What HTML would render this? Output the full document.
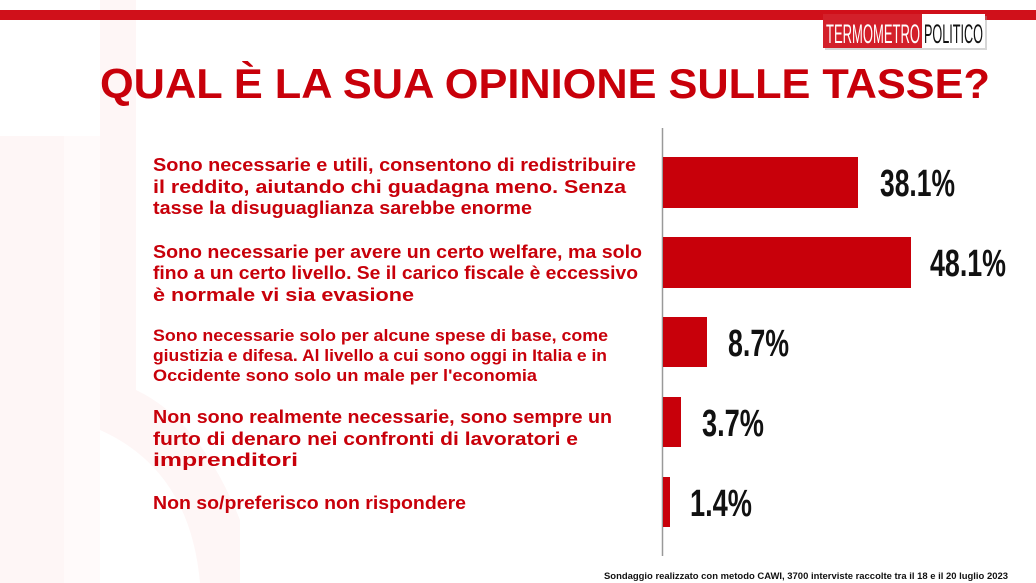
<!DOCTYPE html>
<html><head><meta charset="utf-8"><style>
html,body{margin:0;padding:0;background:#fff;}
svg{display:block}
</style></head><body>
<svg width="1036" height="583" viewBox="0 0 1036 583" xmlns="http://www.w3.org/2000/svg">
<rect width="1036" height="583" fill="#fff"/>
<path d="M0 136 H64 V583 H0 Z" fill="#fef6f6"/>
<path d="M100 0 H136 V390 Q200 420 240 520 L240 583 H200 Q190 470 100 430 Z" fill="#fef6f6"/>
<path d="M64 136 H100 V583 H64 Z" fill="#fffafa"/>
<rect x="0" y="10" width="1036" height="10" fill="#d0101a"/>
<rect x="825" y="16" width="162" height="34" fill="#999" opacity="0.4"/>
<rect x="823" y="14" width="100" height="34" fill="#d3202a"/>
<rect x="922" y="14" width="63" height="34" fill="#fff"/>
<text x="826" y="43" font-family="Liberation Sans Narrow, Liberation Sans, sans-serif" font-size="27" fill="#fff" textLength="94" lengthAdjust="spacingAndGlyphs">TERMOMETRO</text>
<text x="924" y="43" font-family="Liberation Sans Narrow, Liberation Sans, sans-serif" font-size="27" fill="#111" textLength="59" lengthAdjust="spacingAndGlyphs">POLITICO</text>
<text x="100" y="98" font-family="Liberation Sans, sans-serif" font-weight="bold" font-size="42" fill="#c8000a" textLength="890" lengthAdjust="spacingAndGlyphs">QUAL È LA SUA OPINIONE SULLE TASSE?</text>
<g font-family="Liberation Sans, sans-serif" font-weight="bold" font-size="18" fill="#c8000a">
<text x="153" y="171" textLength="483" lengthAdjust="spacingAndGlyphs">Sono necessarie e utili, consentono di redistribuire</text>
<text x="153" y="193" textLength="473" lengthAdjust="spacingAndGlyphs">il reddito, aiutando chi guadagna meno. Senza</text>
<text x="153" y="214" textLength="379" lengthAdjust="spacingAndGlyphs">tasse la disuguaglianza sarebbe enorme</text>
<text x="153" y="258" textLength="489" lengthAdjust="spacingAndGlyphs">Sono necessarie per avere un certo welfare, ma solo</text>
<text x="153" y="279" textLength="485" lengthAdjust="spacingAndGlyphs">fino a un certo livello. Se il carico fiscale è eccessivo</text>
<text x="153" y="301" textLength="261" lengthAdjust="spacingAndGlyphs">è normale vi sia evasione</text>
<text x="153" y="341" font-size="17" textLength="455" lengthAdjust="spacingAndGlyphs">Sono necessarie solo per alcune spese di base, come</text>
<text x="153" y="361" font-size="17" textLength="454" lengthAdjust="spacingAndGlyphs">giustizia e difesa. Al livello a cui sono oggi in Italia e in</text>
<text x="153" y="381" font-size="17" textLength="384" lengthAdjust="spacingAndGlyphs">Occidente sono solo un male per l'economia</text>
<text x="153" y="423" textLength="459" lengthAdjust="spacingAndGlyphs">Non sono realmente necessarie, sono sempre un</text>
<text x="153" y="445" textLength="425" lengthAdjust="spacingAndGlyphs">furto di denaro nei confronti di lavoratori e</text>
<text x="153" y="466" textLength="145" lengthAdjust="spacingAndGlyphs">imprenditori</text>
<text x="153" y="509" textLength="313" lengthAdjust="spacingAndGlyphs">Non so/preferisco non rispondere</text>
</g>
<line x1="662.5" y1="128" x2="662.5" y2="556" stroke="#999" stroke-width="1.5"/>
<g fill="#c8000a">
<rect x="663" y="157" width="195" height="51"/>
<rect x="663" y="237" width="248" height="51"/>
<rect x="663" y="317" width="44" height="50"/>
<rect x="663" y="397" width="18" height="50"/>
<rect x="663" y="477" width="7" height="50"/>
</g>
<g font-family="Liberation Sans Narrow, Liberation Sans, sans-serif" font-weight="bold" font-size="38" fill="#111">
<text x="880" y="196" textLength="75" lengthAdjust="spacingAndGlyphs">38.1%</text>
<text x="930" y="276" textLength="76" lengthAdjust="spacingAndGlyphs">48.1%</text>
<text x="728" y="356" textLength="61" lengthAdjust="spacingAndGlyphs">8.7%</text>
<text x="702" y="436" textLength="62" lengthAdjust="spacingAndGlyphs">3.7%</text>
<text x="690" y="516" textLength="62" lengthAdjust="spacingAndGlyphs">1.4%</text>
</g>
<text x="604" y="579" font-family="Liberation Sans, sans-serif" font-weight="bold" font-size="9" fill="#111" textLength="404" lengthAdjust="spacingAndGlyphs">Sondaggio realizzato con metodo CAWI, 3700 interviste raccolte tra il 18 e il 20 luglio 2023</text>
</svg>
</body></html>
